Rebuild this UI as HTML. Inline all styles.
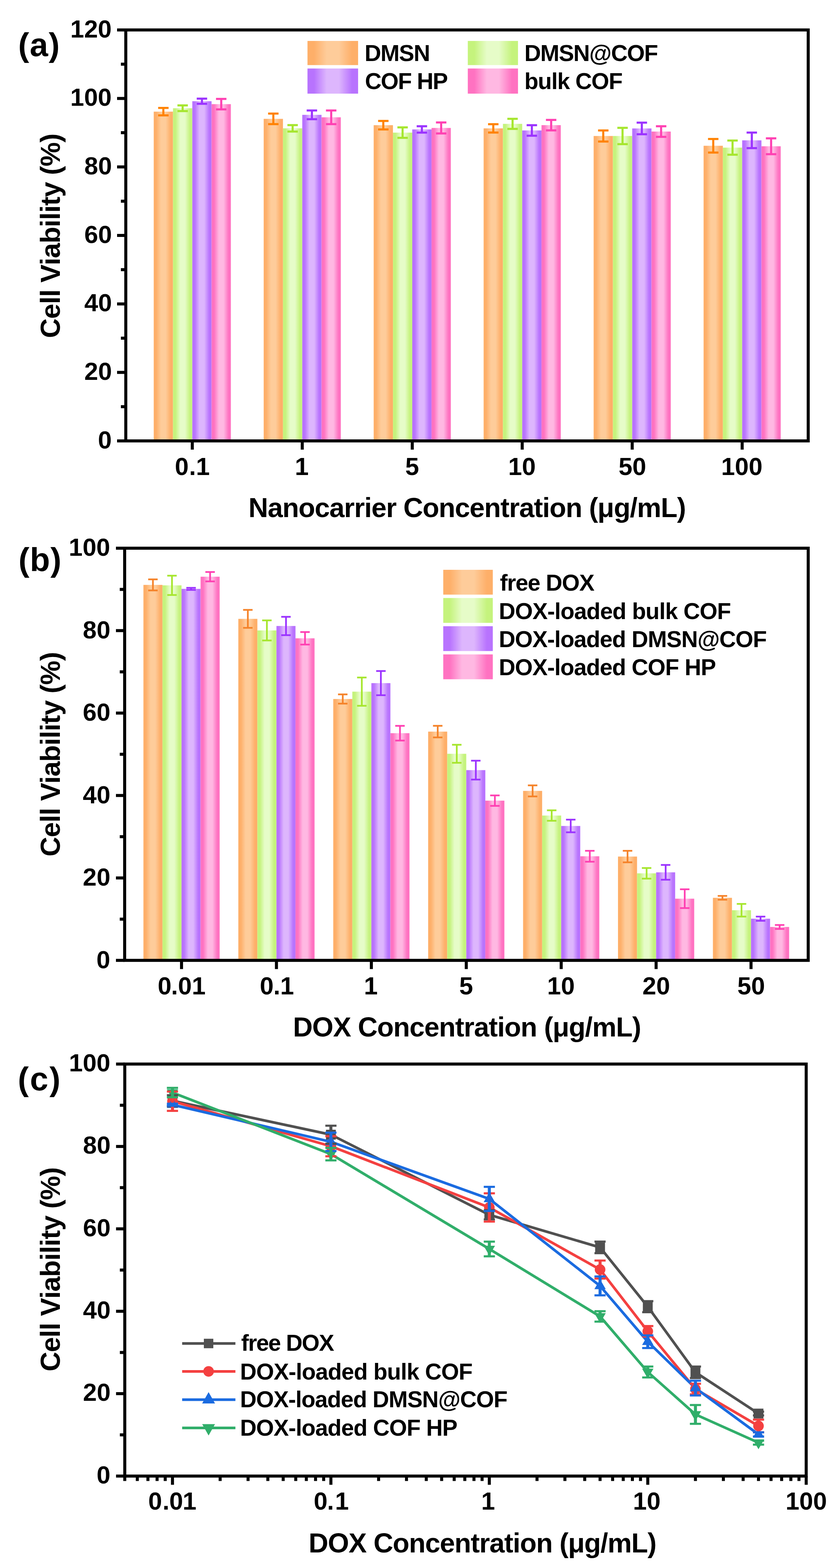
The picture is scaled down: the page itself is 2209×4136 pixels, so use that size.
<!DOCTYPE html><html><head><meta charset="utf-8"><title>Cell viability</title><style>html,body{margin:0;padding:0;background:#fff}svg{display:block}text{font-family:'Liberation Sans',Arial,sans-serif;font-weight:bold;fill:#000}</style></head><body>
<svg width="2209" height="4136" viewBox="0 0 2209 4136">
<rect x="0" y="0" width="2209" height="4136" fill="#fff"/>
<defs>
<linearGradient id="gr_o" x1="0" y1="0" x2="1" y2="0"><stop offset="0" stop-color="#FEAF69"/><stop offset="0.13" stop-color="#FEAF69"/><stop offset="0.38" stop-color="#FECC9A"/><stop offset="0.62" stop-color="#FECC9A"/><stop offset="0.88" stop-color="#FEAF69"/><stop offset="1" stop-color="#FEAF69"/></linearGradient>
<linearGradient id="gr_g" x1="0" y1="0" x2="1" y2="0"><stop offset="0" stop-color="#C5F37D"/><stop offset="0.13" stop-color="#C5F37D"/><stop offset="0.38" stop-color="#E6FCC8"/><stop offset="0.62" stop-color="#E6FCC8"/><stop offset="0.88" stop-color="#C5F37D"/><stop offset="1" stop-color="#C5F37D"/></linearGradient>
<linearGradient id="gr_p" x1="0" y1="0" x2="1" y2="0"><stop offset="0" stop-color="#B873FE"/><stop offset="0.13" stop-color="#B873FE"/><stop offset="0.38" stop-color="#DDB6FD"/><stop offset="0.62" stop-color="#DDB6FD"/><stop offset="0.88" stop-color="#B873FE"/><stop offset="1" stop-color="#B873FE"/></linearGradient>
<linearGradient id="gr_k" x1="0" y1="0" x2="1" y2="0"><stop offset="0" stop-color="#FF72C1"/><stop offset="0.13" stop-color="#FF72C1"/><stop offset="0.38" stop-color="#FFB8E2"/><stop offset="0.62" stop-color="#FFB8E2"/><stop offset="0.88" stop-color="#FF72C1"/><stop offset="1" stop-color="#FF72C1"/></linearGradient>
</defs>
<rect x="405.7" y="294.5" width="50.9" height="868.5" fill="url(#gr_o)"/>
<rect x="456.6" y="285.5" width="50.9" height="877.5" fill="url(#gr_g)"/>
<rect x="507.5" y="267.0" width="50.9" height="896.0" fill="url(#gr_p)"/>
<rect x="558.4" y="274.7" width="50.9" height="888.3" fill="url(#gr_k)"/>
<rect x="695.9" y="313.5" width="50.9" height="849.5" fill="url(#gr_o)"/>
<rect x="746.8" y="338.5" width="50.9" height="824.5" fill="url(#gr_g)"/>
<rect x="797.7" y="302.9" width="50.9" height="860.1" fill="url(#gr_p)"/>
<rect x="848.6" y="309.4" width="50.9" height="853.6" fill="url(#gr_k)"/>
<rect x="986.2" y="330.2" width="50.9" height="832.8" fill="url(#gr_o)"/>
<rect x="1037.1" y="349.8" width="50.9" height="813.2" fill="url(#gr_g)"/>
<rect x="1088.0" y="341.4" width="50.9" height="821.6" fill="url(#gr_p)"/>
<rect x="1138.9" y="337.5" width="50.9" height="825.5" fill="url(#gr_k)"/>
<rect x="1276.4" y="338.6" width="50.9" height="824.4" fill="url(#gr_o)"/>
<rect x="1327.3" y="326.7" width="50.9" height="836.3" fill="url(#gr_g)"/>
<rect x="1378.2" y="344.1" width="50.9" height="818.9" fill="url(#gr_p)"/>
<rect x="1429.1" y="330.1" width="50.9" height="832.9" fill="url(#gr_k)"/>
<rect x="1566.7" y="358.7" width="50.9" height="804.3" fill="url(#gr_o)"/>
<rect x="1617.6" y="358.7" width="50.9" height="804.3" fill="url(#gr_g)"/>
<rect x="1668.5" y="338.8" width="50.9" height="824.2" fill="url(#gr_p)"/>
<rect x="1719.4" y="347.0" width="50.9" height="816.0" fill="url(#gr_k)"/>
<rect x="1856.9" y="384.5" width="50.9" height="778.5" fill="url(#gr_o)"/>
<rect x="1907.8" y="389.4" width="50.9" height="773.6" fill="url(#gr_g)"/>
<rect x="1958.7" y="370.2" width="50.9" height="792.8" fill="url(#gr_p)"/>
<rect x="2009.6" y="385.8" width="50.9" height="777.2" fill="url(#gr_k)"/>
<g stroke="#FF8200" fill="none"><line x1="431.1" y1="284.7" x2="431.1" y2="304.3" stroke-width="5.5"/><line x1="417.4" y1="284.7" x2="444.9" y2="284.7" stroke-width="5.5"/><line x1="417.4" y1="304.3" x2="444.9" y2="304.3" stroke-width="5.5"/></g>
<g stroke="#A6E62E" fill="none"><line x1="482.0" y1="278.0" x2="482.0" y2="293.0" stroke-width="5.5"/><line x1="468.3" y1="278.0" x2="495.8" y2="278.0" stroke-width="5.5"/><line x1="468.3" y1="293.0" x2="495.8" y2="293.0" stroke-width="5.5"/></g>
<g stroke="#9B33FF" fill="none"><line x1="533.0" y1="260.2" x2="533.0" y2="273.8" stroke-width="5.5"/><line x1="519.2" y1="260.2" x2="546.7" y2="260.2" stroke-width="5.5"/><line x1="519.2" y1="273.8" x2="546.7" y2="273.8" stroke-width="5.5"/></g>
<g stroke="#FF40B2" fill="none"><line x1="583.9" y1="260.9" x2="583.9" y2="288.5" stroke-width="5.5"/><line x1="570.1" y1="260.9" x2="597.6" y2="260.9" stroke-width="5.5"/><line x1="570.1" y1="288.5" x2="597.6" y2="288.5" stroke-width="5.5"/></g>
<g stroke="#FF8200" fill="none"><line x1="721.4" y1="299.6" x2="721.4" y2="327.4" stroke-width="5.5"/><line x1="707.6" y1="299.6" x2="735.1" y2="299.6" stroke-width="5.5"/><line x1="707.6" y1="327.4" x2="735.1" y2="327.4" stroke-width="5.5"/></g>
<g stroke="#A6E62E" fill="none"><line x1="772.3" y1="330.0" x2="772.3" y2="347.0" stroke-width="5.5"/><line x1="758.5" y1="330.0" x2="786.0" y2="330.0" stroke-width="5.5"/><line x1="758.5" y1="347.0" x2="786.0" y2="347.0" stroke-width="5.5"/></g>
<g stroke="#9B33FF" fill="none"><line x1="823.2" y1="291.4" x2="823.2" y2="314.4" stroke-width="5.5"/><line x1="809.4" y1="291.4" x2="836.9" y2="291.4" stroke-width="5.5"/><line x1="809.4" y1="314.4" x2="836.9" y2="314.4" stroke-width="5.5"/></g>
<g stroke="#FF40B2" fill="none"><line x1="874.1" y1="291.4" x2="874.1" y2="327.4" stroke-width="5.5"/><line x1="860.3" y1="291.4" x2="887.8" y2="291.4" stroke-width="5.5"/><line x1="860.3" y1="327.4" x2="887.8" y2="327.4" stroke-width="5.5"/></g>
<g stroke="#FF8200" fill="none"><line x1="1011.6" y1="319.0" x2="1011.6" y2="341.4" stroke-width="5.5"/><line x1="997.9" y1="319.0" x2="1025.4" y2="319.0" stroke-width="5.5"/><line x1="997.9" y1="341.4" x2="1025.4" y2="341.4" stroke-width="5.5"/></g>
<g stroke="#A6E62E" fill="none"><line x1="1062.5" y1="336.0" x2="1062.5" y2="363.6" stroke-width="5.5"/><line x1="1048.8" y1="336.0" x2="1076.3" y2="336.0" stroke-width="5.5"/><line x1="1048.8" y1="363.6" x2="1076.3" y2="363.6" stroke-width="5.5"/></g>
<g stroke="#9B33FF" fill="none"><line x1="1113.4" y1="333.0" x2="1113.4" y2="349.8" stroke-width="5.5"/><line x1="1099.7" y1="333.0" x2="1127.2" y2="333.0" stroke-width="5.5"/><line x1="1099.7" y1="349.8" x2="1127.2" y2="349.8" stroke-width="5.5"/></g>
<g stroke="#FF40B2" fill="none"><line x1="1164.3" y1="323.0" x2="1164.3" y2="352.0" stroke-width="5.5"/><line x1="1150.6" y1="323.0" x2="1178.1" y2="323.0" stroke-width="5.5"/><line x1="1150.6" y1="352.0" x2="1178.1" y2="352.0" stroke-width="5.5"/></g>
<g stroke="#FF8200" fill="none"><line x1="1301.9" y1="327.6" x2="1301.9" y2="349.6" stroke-width="5.5"/><line x1="1288.1" y1="327.6" x2="1315.6" y2="327.6" stroke-width="5.5"/><line x1="1288.1" y1="349.6" x2="1315.6" y2="349.6" stroke-width="5.5"/></g>
<g stroke="#A6E62E" fill="none"><line x1="1352.8" y1="313.4" x2="1352.8" y2="340.0" stroke-width="5.5"/><line x1="1339.0" y1="313.4" x2="1366.5" y2="313.4" stroke-width="5.5"/><line x1="1339.0" y1="340.0" x2="1366.5" y2="340.0" stroke-width="5.5"/></g>
<g stroke="#9B33FF" fill="none"><line x1="1403.7" y1="330.2" x2="1403.7" y2="358.0" stroke-width="5.5"/><line x1="1389.9" y1="330.2" x2="1417.4" y2="330.2" stroke-width="5.5"/><line x1="1389.9" y1="358.0" x2="1417.4" y2="358.0" stroke-width="5.5"/></g>
<g stroke="#FF40B2" fill="none"><line x1="1454.6" y1="316.3" x2="1454.6" y2="343.9" stroke-width="5.5"/><line x1="1440.8" y1="316.3" x2="1468.3" y2="316.3" stroke-width="5.5"/><line x1="1440.8" y1="343.9" x2="1468.3" y2="343.9" stroke-width="5.5"/></g>
<g stroke="#FF8200" fill="none"><line x1="1592.1" y1="344.1" x2="1592.1" y2="373.3" stroke-width="5.5"/><line x1="1578.4" y1="344.1" x2="1605.9" y2="344.1" stroke-width="5.5"/><line x1="1578.4" y1="373.3" x2="1605.9" y2="373.3" stroke-width="5.5"/></g>
<g stroke="#A6E62E" fill="none"><line x1="1643.0" y1="337.2" x2="1643.0" y2="380.2" stroke-width="5.5"/><line x1="1629.3" y1="337.2" x2="1656.8" y2="337.2" stroke-width="5.5"/><line x1="1629.3" y1="380.2" x2="1656.8" y2="380.2" stroke-width="5.5"/></g>
<g stroke="#9B33FF" fill="none"><line x1="1693.9" y1="323.5" x2="1693.9" y2="354.1" stroke-width="5.5"/><line x1="1680.2" y1="323.5" x2="1707.7" y2="323.5" stroke-width="5.5"/><line x1="1680.2" y1="354.1" x2="1707.7" y2="354.1" stroke-width="5.5"/></g>
<g stroke="#FF40B2" fill="none"><line x1="1744.8" y1="333.0" x2="1744.8" y2="361.0" stroke-width="5.5"/><line x1="1731.1" y1="333.0" x2="1758.6" y2="333.0" stroke-width="5.5"/><line x1="1731.1" y1="361.0" x2="1758.6" y2="361.0" stroke-width="5.5"/></g>
<g stroke="#FF8200" fill="none"><line x1="1882.4" y1="366.6" x2="1882.4" y2="402.4" stroke-width="5.5"/><line x1="1868.6" y1="366.6" x2="1896.1" y2="366.6" stroke-width="5.5"/><line x1="1868.6" y1="402.4" x2="1896.1" y2="402.4" stroke-width="5.5"/></g>
<g stroke="#A6E62E" fill="none"><line x1="1933.3" y1="370.7" x2="1933.3" y2="408.1" stroke-width="5.5"/><line x1="1919.5" y1="370.7" x2="1947.0" y2="370.7" stroke-width="5.5"/><line x1="1919.5" y1="408.1" x2="1947.0" y2="408.1" stroke-width="5.5"/></g>
<g stroke="#9B33FF" fill="none"><line x1="1984.2" y1="349.7" x2="1984.2" y2="390.7" stroke-width="5.5"/><line x1="1970.4" y1="349.7" x2="1997.9" y2="349.7" stroke-width="5.5"/><line x1="1970.4" y1="390.7" x2="1997.9" y2="390.7" stroke-width="5.5"/></g>
<g stroke="#FF40B2" fill="none"><line x1="2035.1" y1="364.9" x2="2035.1" y2="406.7" stroke-width="5.5"/><line x1="2021.3" y1="364.9" x2="2048.8" y2="364.9" stroke-width="5.5"/><line x1="2021.3" y1="406.7" x2="2048.8" y2="406.7" stroke-width="5.5"/></g>
<rect x="332" y="79" width="1801" height="1084" fill="none" stroke="#000" stroke-width="8"/>
<line x1="309.0" y1="1163.0" x2="332.0" y2="1163.0" stroke="#000" stroke-width="8"/>
<line x1="309.0" y1="982.3" x2="332.0" y2="982.3" stroke="#000" stroke-width="8"/>
<line x1="309.0" y1="801.7" x2="332.0" y2="801.7" stroke="#000" stroke-width="8"/>
<line x1="309.0" y1="621.0" x2="332.0" y2="621.0" stroke="#000" stroke-width="8"/>
<line x1="309.0" y1="440.3" x2="332.0" y2="440.3" stroke="#000" stroke-width="8"/>
<line x1="309.0" y1="259.7" x2="332.0" y2="259.7" stroke="#000" stroke-width="8"/>
<line x1="309.0" y1="79.0" x2="332.0" y2="79.0" stroke="#000" stroke-width="8"/>
<line x1="319.0" y1="1072.7" x2="332.0" y2="1072.7" stroke="#000" stroke-width="8"/>
<line x1="319.0" y1="892.0" x2="332.0" y2="892.0" stroke="#000" stroke-width="8"/>
<line x1="319.0" y1="711.3" x2="332.0" y2="711.3" stroke="#000" stroke-width="8"/>
<line x1="319.0" y1="530.7" x2="332.0" y2="530.7" stroke="#000" stroke-width="8"/>
<line x1="319.0" y1="350.0" x2="332.0" y2="350.0" stroke="#000" stroke-width="8"/>
<line x1="319.0" y1="169.3" x2="332.0" y2="169.3" stroke="#000" stroke-width="8"/>
<line x1="507.5" y1="1163.0" x2="507.5" y2="1186.0" stroke="#000" stroke-width="8"/>
<text x="461.4 499.1 517.2" y="1252.5" font-size="65.5">0.1</text>
<line x1="797.7" y1="1163.0" x2="797.7" y2="1186.0" stroke="#000" stroke-width="8"/>
<text x="778.2" y="1252.5" font-size="65.5">1</text>
<line x1="1088.0" y1="1163.0" x2="1088.0" y2="1186.0" stroke="#000" stroke-width="8"/>
<text x="1069.5" y="1252.5" font-size="65.5">5</text>
<line x1="1378.2" y1="1163.0" x2="1378.2" y2="1186.0" stroke="#000" stroke-width="8"/>
<text x="1341.2" y="1252.5" font-size="65.5">10</text>
<line x1="1668.5" y1="1163.0" x2="1668.5" y2="1186.0" stroke="#000" stroke-width="8"/>
<text x="1632.5" y="1252.5" font-size="65.5">50</text>
<line x1="1958.7" y1="1163.0" x2="1958.7" y2="1186.0" stroke="#000" stroke-width="8"/>
<text x="1903.2" y="1252.5" font-size="65.5">100</text>
<text x="258.5" y="1182.5" font-size="65.5">0</text>
<text x="222.5" y="1001.8" font-size="65.5">20</text>
<text x="222.5" y="821.2" font-size="65.5">40</text>
<text x="222.5" y="640.5" font-size="65.5">60</text>
<text x="222.5" y="459.8" font-size="65.5">80</text>
<text x="185.5" y="279.2" font-size="65.5">100</text>
<text x="185.5" y="98.5" font-size="65.5">120</text>
<text x="655.7" y="1364.1" font-size="72" textLength="1155.0" lengthAdjust="spacing">Nanocarrier Concentration (μg/mL)</text>
<text transform="translate(158.0,891.8) rotate(-90)" x="0" y="0" font-size="72" textLength="539.7" lengthAdjust="spacing">Cell Viability (%)</text>
<text x="47.9" y="148.4" font-size="87" textLength="109.6" lengthAdjust="spacing">(a)</text>
<rect x="811.5" y="108" width="133.6" height="63.7" fill="url(#gr_o)"/>
<rect x="811.5" y="180.7" width="133.6" height="66.3" fill="url(#gr_p)"/>
<rect x="1234.6" y="108" width="132.5" height="63.7" fill="url(#gr_g)"/>
<rect x="1234.6" y="180.7" width="132.5" height="66.3" fill="url(#gr_k)"/>
<text x="962.3" y="160.5" font-size="60.5" textLength="173.1" lengthAdjust="spacing">DMSN</text>
<text x="963.3" y="235.2" font-size="60.5" textLength="219.1" lengthAdjust="spacing">COF HP</text>
<text x="1384.0" y="160.5" font-size="60.5" textLength="353.0" lengthAdjust="spacing">DMSN@COF</text>
<text x="1384.0" y="235.2" font-size="60.5" textLength="259.5" lengthAdjust="spacing">bulk COF</text>
<rect x="378.5" y="1542.8" width="50.3" height="990.4" fill="url(#gr_o)"/>
<rect x="428.8" y="1544.0" width="50.3" height="989.2" fill="url(#gr_g)"/>
<rect x="479.1" y="1553.3" width="50.3" height="979.9" fill="url(#gr_p)"/>
<rect x="529.4" y="1521.2" width="50.3" height="1012.0" fill="url(#gr_k)"/>
<rect x="629.0" y="1632.4" width="50.3" height="900.8" fill="url(#gr_o)"/>
<rect x="679.3" y="1662.9" width="50.3" height="870.3" fill="url(#gr_g)"/>
<rect x="729.6" y="1651.2" width="50.3" height="882.0" fill="url(#gr_p)"/>
<rect x="779.9" y="1683.7" width="50.3" height="849.5" fill="url(#gr_k)"/>
<rect x="879.5" y="1843.8" width="50.3" height="689.4" fill="url(#gr_o)"/>
<rect x="929.8" y="1824.4" width="50.3" height="708.8" fill="url(#gr_g)"/>
<rect x="980.1" y="1801.9" width="50.3" height="731.3" fill="url(#gr_p)"/>
<rect x="1030.4" y="1934.0" width="50.3" height="599.2" fill="url(#gr_k)"/>
<rect x="1130.0" y="1929.8" width="50.3" height="603.4" fill="url(#gr_o)"/>
<rect x="1180.3" y="1988.3" width="50.3" height="544.9" fill="url(#gr_g)"/>
<rect x="1230.6" y="2031.4" width="50.3" height="501.8" fill="url(#gr_p)"/>
<rect x="1280.9" y="2111.9" width="50.3" height="421.3" fill="url(#gr_k)"/>
<rect x="1380.5" y="2086.2" width="50.3" height="447.0" fill="url(#gr_o)"/>
<rect x="1430.8" y="2151.2" width="50.3" height="382.0" fill="url(#gr_g)"/>
<rect x="1481.1" y="2178.7" width="50.3" height="354.5" fill="url(#gr_p)"/>
<rect x="1531.4" y="2258.6" width="50.3" height="274.6" fill="url(#gr_k)"/>
<rect x="1631.0" y="2259.4" width="50.3" height="273.8" fill="url(#gr_o)"/>
<rect x="1681.3" y="2303.6" width="50.3" height="229.6" fill="url(#gr_g)"/>
<rect x="1731.6" y="2301.0" width="50.3" height="232.2" fill="url(#gr_p)"/>
<rect x="1781.9" y="2370.5" width="50.3" height="162.7" fill="url(#gr_k)"/>
<rect x="1881.5" y="2368.2" width="50.3" height="165.0" fill="url(#gr_o)"/>
<rect x="1931.8" y="2401.0" width="50.3" height="132.2" fill="url(#gr_g)"/>
<rect x="1982.1" y="2423.3" width="50.3" height="109.9" fill="url(#gr_p)"/>
<rect x="2032.4" y="2445.1" width="50.3" height="88.1" fill="url(#gr_k)"/>
<g stroke="#F5832A" fill="none"><line x1="403.6" y1="1528.2" x2="403.6" y2="1557.4" stroke-width="4.5"/><line x1="391.1" y1="1528.2" x2="416.1" y2="1528.2" stroke-width="4.5"/><line x1="391.1" y1="1557.4" x2="416.1" y2="1557.4" stroke-width="4.5"/></g>
<g stroke="#A6E62E" fill="none"><line x1="453.9" y1="1518.5" x2="453.9" y2="1569.5" stroke-width="4.5"/><line x1="441.4" y1="1518.5" x2="466.4" y2="1518.5" stroke-width="4.5"/><line x1="441.4" y1="1569.5" x2="466.4" y2="1569.5" stroke-width="4.5"/></g>
<g stroke="#9B33FF" fill="none"><line x1="504.2" y1="1550.6" x2="504.2" y2="1556.0" stroke-width="4.5"/><line x1="491.8" y1="1550.6" x2="516.8" y2="1550.6" stroke-width="4.5"/><line x1="491.8" y1="1556.0" x2="516.8" y2="1556.0" stroke-width="4.5"/></g>
<g stroke="#FF40B2" fill="none"><line x1="554.5" y1="1508.8" x2="554.5" y2="1533.6" stroke-width="4.5"/><line x1="542.0" y1="1508.8" x2="567.0" y2="1508.8" stroke-width="4.5"/><line x1="542.0" y1="1533.6" x2="567.0" y2="1533.6" stroke-width="4.5"/></g>
<g stroke="#F5832A" fill="none"><line x1="654.1" y1="1608.7" x2="654.1" y2="1656.1" stroke-width="4.5"/><line x1="641.6" y1="1608.7" x2="666.6" y2="1608.7" stroke-width="4.5"/><line x1="641.6" y1="1656.1" x2="666.6" y2="1656.1" stroke-width="4.5"/></g>
<g stroke="#A6E62E" fill="none"><line x1="704.4" y1="1636.4" x2="704.4" y2="1689.4" stroke-width="4.5"/><line x1="691.9" y1="1636.4" x2="716.9" y2="1636.4" stroke-width="4.5"/><line x1="691.9" y1="1689.4" x2="716.9" y2="1689.4" stroke-width="4.5"/></g>
<g stroke="#9B33FF" fill="none"><line x1="754.8" y1="1627.0" x2="754.8" y2="1675.4" stroke-width="4.5"/><line x1="742.2" y1="1627.0" x2="767.2" y2="1627.0" stroke-width="4.5"/><line x1="742.2" y1="1675.4" x2="767.2" y2="1675.4" stroke-width="4.5"/></g>
<g stroke="#FF40B2" fill="none"><line x1="805.0" y1="1667.2" x2="805.0" y2="1700.2" stroke-width="4.5"/><line x1="792.5" y1="1667.2" x2="817.5" y2="1667.2" stroke-width="4.5"/><line x1="792.5" y1="1700.2" x2="817.5" y2="1700.2" stroke-width="4.5"/></g>
<g stroke="#F5832A" fill="none"><line x1="904.6" y1="1831.6" x2="904.6" y2="1856.0" stroke-width="4.5"/><line x1="892.1" y1="1831.6" x2="917.1" y2="1831.6" stroke-width="4.5"/><line x1="892.1" y1="1856.0" x2="917.1" y2="1856.0" stroke-width="4.5"/></g>
<g stroke="#A6E62E" fill="none"><line x1="954.9" y1="1787.1" x2="954.9" y2="1861.7" stroke-width="4.5"/><line x1="942.4" y1="1787.1" x2="967.4" y2="1787.1" stroke-width="4.5"/><line x1="942.4" y1="1861.7" x2="967.4" y2="1861.7" stroke-width="4.5"/></g>
<g stroke="#9B33FF" fill="none"><line x1="1005.2" y1="1770.0" x2="1005.2" y2="1833.8" stroke-width="4.5"/><line x1="992.8" y1="1770.0" x2="1017.8" y2="1770.0" stroke-width="4.5"/><line x1="992.8" y1="1833.8" x2="1017.8" y2="1833.8" stroke-width="4.5"/></g>
<g stroke="#FF40B2" fill="none"><line x1="1055.6" y1="1914.6" x2="1055.6" y2="1953.4" stroke-width="4.5"/><line x1="1043.1" y1="1914.6" x2="1068.1" y2="1914.6" stroke-width="4.5"/><line x1="1043.1" y1="1953.4" x2="1068.1" y2="1953.4" stroke-width="4.5"/></g>
<g stroke="#F5832A" fill="none"><line x1="1155.2" y1="1914.5" x2="1155.2" y2="1945.1" stroke-width="4.5"/><line x1="1142.7" y1="1914.5" x2="1167.7" y2="1914.5" stroke-width="4.5"/><line x1="1142.7" y1="1945.1" x2="1167.7" y2="1945.1" stroke-width="4.5"/></g>
<g stroke="#A6E62E" fill="none"><line x1="1205.5" y1="1964.5" x2="1205.5" y2="2012.1" stroke-width="4.5"/><line x1="1193.0" y1="1964.5" x2="1218.0" y2="1964.5" stroke-width="4.5"/><line x1="1193.0" y1="2012.1" x2="1218.0" y2="2012.1" stroke-width="4.5"/></g>
<g stroke="#9B33FF" fill="none"><line x1="1255.8" y1="2006.5" x2="1255.8" y2="2056.3" stroke-width="4.5"/><line x1="1243.2" y1="2006.5" x2="1268.2" y2="2006.5" stroke-width="4.5"/><line x1="1243.2" y1="2056.3" x2="1268.2" y2="2056.3" stroke-width="4.5"/></g>
<g stroke="#FF40B2" fill="none"><line x1="1306.1" y1="2098.1" x2="1306.1" y2="2125.7" stroke-width="4.5"/><line x1="1293.6" y1="2098.1" x2="1318.6" y2="2098.1" stroke-width="4.5"/><line x1="1293.6" y1="2125.7" x2="1318.6" y2="2125.7" stroke-width="4.5"/></g>
<g stroke="#F5832A" fill="none"><line x1="1405.7" y1="2071.6" x2="1405.7" y2="2100.8" stroke-width="4.5"/><line x1="1393.2" y1="2071.6" x2="1418.2" y2="2071.6" stroke-width="4.5"/><line x1="1393.2" y1="2100.8" x2="1418.2" y2="2100.8" stroke-width="4.5"/></g>
<g stroke="#A6E62E" fill="none"><line x1="1456.0" y1="2137.4" x2="1456.0" y2="2165.0" stroke-width="4.5"/><line x1="1443.5" y1="2137.4" x2="1468.5" y2="2137.4" stroke-width="4.5"/><line x1="1443.5" y1="2165.0" x2="1468.5" y2="2165.0" stroke-width="4.5"/></g>
<g stroke="#9B33FF" fill="none"><line x1="1506.2" y1="2162.0" x2="1506.2" y2="2195.4" stroke-width="4.5"/><line x1="1493.8" y1="2162.0" x2="1518.8" y2="2162.0" stroke-width="4.5"/><line x1="1493.8" y1="2195.4" x2="1518.8" y2="2195.4" stroke-width="4.5"/></g>
<g stroke="#FF40B2" fill="none"><line x1="1556.6" y1="2244.2" x2="1556.6" y2="2273.0" stroke-width="4.5"/><line x1="1544.1" y1="2244.2" x2="1569.1" y2="2244.2" stroke-width="4.5"/><line x1="1544.1" y1="2273.0" x2="1569.1" y2="2273.0" stroke-width="4.5"/></g>
<g stroke="#F5832A" fill="none"><line x1="1656.2" y1="2244.2" x2="1656.2" y2="2274.6" stroke-width="4.5"/><line x1="1643.7" y1="2244.2" x2="1668.7" y2="2244.2" stroke-width="4.5"/><line x1="1643.7" y1="2274.6" x2="1668.7" y2="2274.6" stroke-width="4.5"/></g>
<g stroke="#A6E62E" fill="none"><line x1="1706.5" y1="2289.6" x2="1706.5" y2="2317.6" stroke-width="4.5"/><line x1="1694.0" y1="2289.6" x2="1719.0" y2="2289.6" stroke-width="4.5"/><line x1="1694.0" y1="2317.6" x2="1719.0" y2="2317.6" stroke-width="4.5"/></g>
<g stroke="#9B33FF" fill="none"><line x1="1756.8" y1="2281.5" x2="1756.8" y2="2320.5" stroke-width="4.5"/><line x1="1744.2" y1="2281.5" x2="1769.2" y2="2281.5" stroke-width="4.5"/><line x1="1744.2" y1="2320.5" x2="1769.2" y2="2320.5" stroke-width="4.5"/></g>
<g stroke="#FF40B2" fill="none"><line x1="1807.1" y1="2345.7" x2="1807.1" y2="2395.3" stroke-width="4.5"/><line x1="1794.6" y1="2345.7" x2="1819.6" y2="2345.7" stroke-width="4.5"/><line x1="1794.6" y1="2395.3" x2="1819.6" y2="2395.3" stroke-width="4.5"/></g>
<g stroke="#F5832A" fill="none"><line x1="1906.7" y1="2363.2" x2="1906.7" y2="2373.2" stroke-width="4.5"/><line x1="1894.2" y1="2363.2" x2="1919.2" y2="2363.2" stroke-width="4.5"/><line x1="1894.2" y1="2373.2" x2="1919.2" y2="2373.2" stroke-width="4.5"/></g>
<g stroke="#A6E62E" fill="none"><line x1="1957.0" y1="2384.3" x2="1957.0" y2="2417.7" stroke-width="4.5"/><line x1="1944.5" y1="2384.3" x2="1969.5" y2="2384.3" stroke-width="4.5"/><line x1="1944.5" y1="2417.7" x2="1969.5" y2="2417.7" stroke-width="4.5"/></g>
<g stroke="#9B33FF" fill="none"><line x1="2007.2" y1="2417.8" x2="2007.2" y2="2428.8" stroke-width="4.5"/><line x1="1994.8" y1="2417.8" x2="2019.8" y2="2417.8" stroke-width="4.5"/><line x1="1994.8" y1="2428.8" x2="2019.8" y2="2428.8" stroke-width="4.5"/></g>
<g stroke="#FF40B2" fill="none"><line x1="2057.6" y1="2439.9" x2="2057.6" y2="2450.3" stroke-width="4.5"/><line x1="2045.1" y1="2439.9" x2="2070.1" y2="2439.9" stroke-width="4.5"/><line x1="2045.1" y1="2450.3" x2="2070.1" y2="2450.3" stroke-width="4.5"/></g>
<rect x="329" y="1446" width="1804" height="1087.1999999999998" fill="none" stroke="#000" stroke-width="8"/>
<line x1="306.0" y1="2533.2" x2="329.0" y2="2533.2" stroke="#000" stroke-width="8"/>
<line x1="306.0" y1="2315.8" x2="329.0" y2="2315.8" stroke="#000" stroke-width="8"/>
<line x1="306.0" y1="2098.3" x2="329.0" y2="2098.3" stroke="#000" stroke-width="8"/>
<line x1="306.0" y1="1880.9" x2="329.0" y2="1880.9" stroke="#000" stroke-width="8"/>
<line x1="306.0" y1="1663.4" x2="329.0" y2="1663.4" stroke="#000" stroke-width="8"/>
<line x1="306.0" y1="1446.0" x2="329.0" y2="1446.0" stroke="#000" stroke-width="8"/>
<line x1="316.0" y1="2424.5" x2="329.0" y2="2424.5" stroke="#000" stroke-width="8"/>
<line x1="316.0" y1="2207.0" x2="329.0" y2="2207.0" stroke="#000" stroke-width="8"/>
<line x1="316.0" y1="1989.6" x2="329.0" y2="1989.6" stroke="#000" stroke-width="8"/>
<line x1="316.0" y1="1772.2" x2="329.0" y2="1772.2" stroke="#000" stroke-width="8"/>
<line x1="316.0" y1="1554.7" x2="329.0" y2="1554.7" stroke="#000" stroke-width="8"/>
<line x1="479.1" y1="2533.2" x2="479.1" y2="2556.2" stroke="#000" stroke-width="8"/>
<text x="416.3 451.6 469.8 506.2" y="2622.5" font-size="65.5">0.01</text>
<line x1="729.6" y1="2533.2" x2="729.6" y2="2556.2" stroke="#000" stroke-width="8"/>
<text x="685.7 721.4 739.4" y="2622.5" font-size="65.5">0.1</text>
<line x1="980.1" y1="2533.2" x2="980.1" y2="2556.2" stroke="#000" stroke-width="8"/>
<text x="960.6" y="2622.5" font-size="65.5">1</text>
<line x1="1230.6" y1="2533.2" x2="1230.6" y2="2556.2" stroke="#000" stroke-width="8"/>
<text x="1212.1" y="2622.5" font-size="65.5">5</text>
<line x1="1481.1" y1="2533.2" x2="1481.1" y2="2556.2" stroke="#000" stroke-width="8"/>
<text x="1444.1" y="2622.5" font-size="65.5">10</text>
<line x1="1731.6" y1="2533.2" x2="1731.6" y2="2556.2" stroke="#000" stroke-width="8"/>
<text x="1695.6" y="2622.5" font-size="65.5">20</text>
<line x1="1982.1" y1="2533.2" x2="1982.1" y2="2556.2" stroke="#000" stroke-width="8"/>
<text x="1946.1" y="2622.5" font-size="65.5">50</text>
<text x="254.5" y="2553.5" font-size="65.5">0</text>
<text x="218.5" y="2336.1" font-size="65.5">20</text>
<text x="218.5" y="2118.6" font-size="65.5">40</text>
<text x="218.5" y="1901.2" font-size="65.5">60</text>
<text x="218.5" y="1683.7" font-size="65.5">80</text>
<text x="181.5" y="1466.3" font-size="65.5">100</text>
<text x="773.3" y="2734.1" font-size="72" textLength="919.2" lengthAdjust="spacing">DOX Concentration (μg/mL)</text>
<text transform="translate(157.9,2259.3) rotate(-90)" x="0" y="0" font-size="72" textLength="539.8" lengthAdjust="spacing">Cell Viability (%)</text>
<text x="48.7" y="1506.3" font-size="87" textLength="113.4" lengthAdjust="spacing">(b)</text>
<rect x="1169.8" y="1503.0" width="130.8" height="65.5" fill="url(#gr_o)"/>
<text x="1319.5" y="1558.3" font-size="60.5" textLength="249.5" lengthAdjust="spacing">free DOX</text>
<rect x="1169.8" y="1577.4" width="130.8" height="65.5" fill="url(#gr_g)"/>
<text x="1316.5" y="1632.5" font-size="60.5" textLength="612.9" lengthAdjust="spacing">DOX-loaded bulk COF</text>
<rect x="1169.8" y="1651.8" width="130.8" height="65.5" fill="url(#gr_p)"/>
<text x="1316.5" y="1706.7" font-size="60.5" textLength="707.5" lengthAdjust="spacing">DOX-loaded DMSN@COF</text>
<rect x="1169.8" y="1726.2" width="130.8" height="65.5" fill="url(#gr_k)"/>
<text x="1316.5" y="1780.9" font-size="60.5" textLength="573.3" lengthAdjust="spacing">DOX-loaded COF HP</text>
<polyline points="455.2,2903.5 873.3,2993.0 1291.4,3204.4 1583.7,3290.3 1709.6,3446.7 1835.4,3619.8 2001.8,3728.6" fill="none" stroke="#505050" stroke-width="7" stroke-linejoin="round"/>
<polyline points="455.2,2904.7 873.3,3023.5 1291.4,3185.0 1583.7,3348.8 1709.6,3511.6 1835.4,3664.0 2001.8,3761.3" fill="none" stroke="#F44040" stroke-width="7" stroke-linejoin="round"/>
<polyline points="455.2,2914.0 873.3,3011.8 1291.4,3162.5 1583.7,3391.9 1709.6,3539.1 1835.4,3661.4 2001.8,3783.6" fill="none" stroke="#1A6BE0" stroke-width="7" stroke-linejoin="round"/>
<polyline points="455.2,2881.9 873.3,3044.3 1291.4,3294.5 1583.7,3472.4 1709.6,3619.0 1835.4,3730.9 2001.8,3805.4" fill="none" stroke="#30AE6A" stroke-width="7" stroke-linejoin="round"/>
<rect x="442.2" y="2890.5" width="26.0" height="26.0" fill="#505050"/>
<rect x="860.3" y="2980.0" width="26.0" height="26.0" fill="#505050"/>
<rect x="1278.4" y="3191.4" width="26.0" height="26.0" fill="#505050"/>
<rect x="1570.7" y="3277.3" width="26.0" height="26.0" fill="#505050"/>
<rect x="1696.6" y="3433.7" width="26.0" height="26.0" fill="#505050"/>
<rect x="1822.4" y="3606.8" width="26.0" height="26.0" fill="#505050"/>
<rect x="1988.8" y="3715.6" width="26.0" height="26.0" fill="#505050"/>
<circle cx="455.2" cy="2904.7" r="14.0" fill="#F44040"/>
<circle cx="873.3" cy="3023.5" r="14.0" fill="#F44040"/>
<circle cx="1291.4" cy="3185.0" r="14.0" fill="#F44040"/>
<circle cx="1583.7" cy="3348.8" r="14.0" fill="#F44040"/>
<circle cx="1709.6" cy="3511.6" r="14.0" fill="#F44040"/>
<circle cx="1835.4" cy="3664.0" r="14.0" fill="#F44040"/>
<circle cx="2001.8" cy="3761.3" r="14.0" fill="#F44040"/>
<polygon points="455.2,2896.6 470.2,2922.6 440.2,2922.6" fill="#1A6BE0"/>
<polygon points="873.3,2994.5 888.3,3020.5 858.3,3020.5" fill="#1A6BE0"/>
<polygon points="1291.4,3145.1 1306.4,3171.1 1276.4,3171.1" fill="#1A6BE0"/>
<polygon points="1583.7,3374.6 1598.7,3400.6 1568.7,3400.6" fill="#1A6BE0"/>
<polygon points="1709.6,3521.8 1724.6,3547.8 1694.6,3547.8" fill="#1A6BE0"/>
<polygon points="1835.4,3644.1 1850.4,3670.1 1820.4,3670.1" fill="#1A6BE0"/>
<polygon points="2001.8,3766.3 2016.8,3792.3 1986.8,3792.3" fill="#1A6BE0"/>
<polygon points="455.2,2899.2 470.2,2873.2 440.2,2873.2" fill="#30AE6A"/>
<polygon points="873.3,3061.6 888.3,3035.6 858.3,3035.6" fill="#30AE6A"/>
<polygon points="1291.4,3311.9 1306.4,3285.9 1276.4,3285.9" fill="#30AE6A"/>
<polygon points="1583.7,3489.7 1598.7,3463.7 1568.7,3463.7" fill="#30AE6A"/>
<polygon points="1709.6,3636.3 1724.6,3610.3 1694.6,3610.3" fill="#30AE6A"/>
<polygon points="1835.4,3748.2 1850.4,3722.2 1820.4,3722.2" fill="#30AE6A"/>
<polygon points="2001.8,3822.8 2016.8,3796.8 1986.8,3796.8" fill="#30AE6A"/>
<g stroke="#505050" fill="none"><line x1="455.2" y1="2888.9" x2="455.2" y2="2918.1" stroke-width="8"/><line x1="440.4" y1="2888.9" x2="469.9" y2="2888.9" stroke-width="5.5"/><line x1="440.4" y1="2918.1" x2="469.9" y2="2918.1" stroke-width="5.5"/></g>
<g stroke="#505050" fill="none"><line x1="873.3" y1="2969.3" x2="873.3" y2="3016.7" stroke-width="8"/><line x1="858.6" y1="2969.3" x2="888.1" y2="2969.3" stroke-width="5.5"/><line x1="858.6" y1="3016.7" x2="888.1" y2="3016.7" stroke-width="5.5"/></g>
<g stroke="#505050" fill="none"><line x1="1291.4" y1="3192.2" x2="1291.4" y2="3216.5" stroke-width="8"/><line x1="1276.7" y1="3192.2" x2="1306.2" y2="3192.2" stroke-width="5.5"/><line x1="1276.7" y1="3216.5" x2="1306.2" y2="3216.5" stroke-width="5.5"/></g>
<g stroke="#505050" fill="none"><line x1="1583.7" y1="3275.0" x2="1583.7" y2="3305.6" stroke-width="8"/><line x1="1568.9" y1="3275.0" x2="1598.4" y2="3275.0" stroke-width="5.5"/><line x1="1568.9" y1="3305.6" x2="1598.4" y2="3305.6" stroke-width="5.5"/></g>
<g stroke="#505050" fill="none"><line x1="1709.6" y1="3432.1" x2="1709.6" y2="3461.3" stroke-width="8"/><line x1="1694.8" y1="3432.1" x2="1724.3" y2="3432.1" stroke-width="5.5"/><line x1="1694.8" y1="3461.3" x2="1724.3" y2="3461.3" stroke-width="5.5"/></g>
<g stroke="#505050" fill="none"><line x1="1835.4" y1="3604.6" x2="1835.4" y2="3635.0" stroke-width="8"/><line x1="1820.7" y1="3604.6" x2="1850.2" y2="3604.6" stroke-width="5.5"/><line x1="1820.7" y1="3635.0" x2="1850.2" y2="3635.0" stroke-width="5.5"/></g>
<g stroke="#505050" fill="none"><line x1="2001.8" y1="3723.6" x2="2001.8" y2="3733.6" stroke-width="8"/><line x1="1987.1" y1="3723.6" x2="2016.6" y2="3723.6" stroke-width="5.5"/><line x1="1987.1" y1="3733.6" x2="2016.6" y2="3733.6" stroke-width="5.5"/></g>
<g stroke="#F44040" fill="none"><line x1="455.2" y1="2879.2" x2="455.2" y2="2930.2" stroke-width="8"/><line x1="440.4" y1="2879.2" x2="469.9" y2="2879.2" stroke-width="5.5"/><line x1="440.4" y1="2930.2" x2="469.9" y2="2930.2" stroke-width="5.5"/></g>
<g stroke="#F44040" fill="none"><line x1="873.3" y1="2997.0" x2="873.3" y2="3050.0" stroke-width="8"/><line x1="858.6" y1="2997.0" x2="888.1" y2="2997.0" stroke-width="5.5"/><line x1="858.6" y1="3050.0" x2="888.1" y2="3050.0" stroke-width="5.5"/></g>
<g stroke="#F44040" fill="none"><line x1="1291.4" y1="3147.7" x2="1291.4" y2="3222.2" stroke-width="8"/><line x1="1276.7" y1="3147.7" x2="1306.2" y2="3147.7" stroke-width="5.5"/><line x1="1276.7" y1="3222.2" x2="1306.2" y2="3222.2" stroke-width="5.5"/></g>
<g stroke="#F44040" fill="none"><line x1="1583.7" y1="3325.0" x2="1583.7" y2="3372.6" stroke-width="8"/><line x1="1568.9" y1="3325.0" x2="1598.4" y2="3325.0" stroke-width="5.5"/><line x1="1568.9" y1="3372.6" x2="1598.4" y2="3372.6" stroke-width="5.5"/></g>
<g stroke="#F44040" fill="none"><line x1="1709.6" y1="3497.8" x2="1709.6" y2="3525.4" stroke-width="8"/><line x1="1694.8" y1="3497.8" x2="1724.3" y2="3497.8" stroke-width="5.5"/><line x1="1694.8" y1="3525.4" x2="1724.3" y2="3525.4" stroke-width="5.5"/></g>
<g stroke="#F44040" fill="none"><line x1="1835.4" y1="3650.0" x2="1835.4" y2="3678.0" stroke-width="8"/><line x1="1820.7" y1="3650.0" x2="1850.2" y2="3650.0" stroke-width="5.5"/><line x1="1820.7" y1="3678.0" x2="1850.2" y2="3678.0" stroke-width="5.5"/></g>
<g stroke="#F44040" fill="none"><line x1="2001.8" y1="3744.7" x2="2001.8" y2="3778.0" stroke-width="8"/><line x1="1987.1" y1="3744.7" x2="2016.6" y2="3744.7" stroke-width="5.5"/><line x1="1987.1" y1="3778.0" x2="2016.6" y2="3778.0" stroke-width="5.5"/></g>
<g stroke="#1A6BE0" fill="none"><line x1="455.2" y1="2911.3" x2="455.2" y2="2916.7" stroke-width="8"/><line x1="440.4" y1="2911.3" x2="469.9" y2="2911.3" stroke-width="5.5"/><line x1="440.4" y1="2916.7" x2="469.9" y2="2916.7" stroke-width="5.5"/></g>
<g stroke="#1A6BE0" fill="none"><line x1="873.3" y1="2987.6" x2="873.3" y2="3036.0" stroke-width="8"/><line x1="858.6" y1="2987.6" x2="888.1" y2="2987.6" stroke-width="5.5"/><line x1="858.6" y1="3036.0" x2="888.1" y2="3036.0" stroke-width="5.5"/></g>
<g stroke="#1A6BE0" fill="none"><line x1="1291.4" y1="3130.6" x2="1291.4" y2="3194.4" stroke-width="8"/><line x1="1276.7" y1="3130.6" x2="1306.2" y2="3130.6" stroke-width="5.5"/><line x1="1276.7" y1="3194.4" x2="1306.2" y2="3194.4" stroke-width="5.5"/></g>
<g stroke="#1A6BE0" fill="none"><line x1="1583.7" y1="3367.0" x2="1583.7" y2="3416.8" stroke-width="8"/><line x1="1568.9" y1="3367.0" x2="1598.4" y2="3367.0" stroke-width="5.5"/><line x1="1568.9" y1="3416.8" x2="1598.4" y2="3416.8" stroke-width="5.5"/></g>
<g stroke="#1A6BE0" fill="none"><line x1="1709.6" y1="3522.4" x2="1709.6" y2="3555.8" stroke-width="8"/><line x1="1694.8" y1="3522.4" x2="1724.3" y2="3522.4" stroke-width="5.5"/><line x1="1694.8" y1="3555.8" x2="1724.3" y2="3555.8" stroke-width="5.5"/></g>
<g stroke="#1A6BE0" fill="none"><line x1="1835.4" y1="3641.9" x2="1835.4" y2="3680.9" stroke-width="8"/><line x1="1820.7" y1="3641.9" x2="1850.2" y2="3641.9" stroke-width="5.5"/><line x1="1820.7" y1="3680.9" x2="1850.2" y2="3680.9" stroke-width="5.5"/></g>
<g stroke="#1A6BE0" fill="none"><line x1="2001.8" y1="3778.1" x2="2001.8" y2="3789.1" stroke-width="8"/><line x1="1987.1" y1="3778.1" x2="2016.6" y2="3778.1" stroke-width="5.5"/><line x1="1987.1" y1="3789.1" x2="2016.6" y2="3789.1" stroke-width="5.5"/></g>
<g stroke="#30AE6A" fill="none"><line x1="455.2" y1="2869.5" x2="455.2" y2="2894.3" stroke-width="8"/><line x1="440.4" y1="2869.5" x2="469.9" y2="2869.5" stroke-width="5.5"/><line x1="440.4" y1="2894.3" x2="469.9" y2="2894.3" stroke-width="5.5"/></g>
<g stroke="#30AE6A" fill="none"><line x1="873.3" y1="3027.8" x2="873.3" y2="3060.8" stroke-width="8"/><line x1="858.6" y1="3027.8" x2="888.1" y2="3027.8" stroke-width="5.5"/><line x1="858.6" y1="3060.8" x2="888.1" y2="3060.8" stroke-width="5.5"/></g>
<g stroke="#30AE6A" fill="none"><line x1="1291.4" y1="3275.1" x2="1291.4" y2="3313.9" stroke-width="8"/><line x1="1276.7" y1="3275.1" x2="1306.2" y2="3275.1" stroke-width="5.5"/><line x1="1276.7" y1="3313.9" x2="1306.2" y2="3313.9" stroke-width="5.5"/></g>
<g stroke="#30AE6A" fill="none"><line x1="1583.7" y1="3458.6" x2="1583.7" y2="3486.1" stroke-width="8"/><line x1="1568.9" y1="3458.6" x2="1598.4" y2="3458.6" stroke-width="5.5"/><line x1="1568.9" y1="3486.1" x2="1598.4" y2="3486.1" stroke-width="5.5"/></g>
<g stroke="#30AE6A" fill="none"><line x1="1709.6" y1="3604.6" x2="1709.6" y2="3633.4" stroke-width="8"/><line x1="1694.8" y1="3604.6" x2="1724.3" y2="3604.6" stroke-width="5.5"/><line x1="1694.8" y1="3633.4" x2="1724.3" y2="3633.4" stroke-width="5.5"/></g>
<g stroke="#30AE6A" fill="none"><line x1="1835.4" y1="3706.1" x2="1835.4" y2="3755.7" stroke-width="8"/><line x1="1820.7" y1="3706.1" x2="1850.2" y2="3706.1" stroke-width="5.5"/><line x1="1820.7" y1="3755.7" x2="1850.2" y2="3755.7" stroke-width="5.5"/></g>
<g stroke="#30AE6A" fill="none"><line x1="2001.8" y1="3800.2" x2="2001.8" y2="3810.6" stroke-width="8"/><line x1="1987.1" y1="3800.2" x2="2016.6" y2="3800.2" stroke-width="5.5"/><line x1="1987.1" y1="3810.6" x2="2016.6" y2="3810.6" stroke-width="5.5"/></g>
<rect x="329.3" y="2806.7" width="1798.3999999999999" height="1086.8000000000002" fill="none" stroke="#000" stroke-width="8"/>
<line x1="306.3" y1="3893.5" x2="329.3" y2="3893.5" stroke="#000" stroke-width="8"/>
<line x1="306.3" y1="3676.1" x2="329.3" y2="3676.1" stroke="#000" stroke-width="8"/>
<line x1="306.3" y1="3458.8" x2="329.3" y2="3458.8" stroke="#000" stroke-width="8"/>
<line x1="306.3" y1="3241.4" x2="329.3" y2="3241.4" stroke="#000" stroke-width="8"/>
<line x1="306.3" y1="3024.1" x2="329.3" y2="3024.1" stroke="#000" stroke-width="8"/>
<line x1="306.3" y1="2806.7" x2="329.3" y2="2806.7" stroke="#000" stroke-width="8"/>
<line x1="316.3" y1="3784.8" x2="329.3" y2="3784.8" stroke="#000" stroke-width="8"/>
<line x1="316.3" y1="3567.5" x2="329.3" y2="3567.5" stroke="#000" stroke-width="8"/>
<line x1="316.3" y1="3350.1" x2="329.3" y2="3350.1" stroke="#000" stroke-width="8"/>
<line x1="316.3" y1="3132.7" x2="329.3" y2="3132.7" stroke="#000" stroke-width="8"/>
<line x1="316.3" y1="2915.4" x2="329.3" y2="2915.4" stroke="#000" stroke-width="8"/>
<line x1="329.3" y1="3893.5" x2="329.3" y2="3906.5" stroke="#000" stroke-width="8"/>
<line x1="362.4" y1="3893.5" x2="362.4" y2="3906.5" stroke="#000" stroke-width="8"/>
<line x1="390.4" y1="3893.5" x2="390.4" y2="3906.5" stroke="#000" stroke-width="8"/>
<line x1="414.6" y1="3893.5" x2="414.6" y2="3906.5" stroke="#000" stroke-width="8"/>
<line x1="436.0" y1="3893.5" x2="436.0" y2="3906.5" stroke="#000" stroke-width="8"/>
<line x1="455.2" y1="3893.5" x2="455.2" y2="3916.5" stroke="#000" stroke-width="8"/>
<line x1="581.0" y1="3893.5" x2="581.0" y2="3906.5" stroke="#000" stroke-width="8"/>
<line x1="654.7" y1="3893.5" x2="654.7" y2="3906.5" stroke="#000" stroke-width="8"/>
<line x1="706.9" y1="3893.5" x2="706.9" y2="3906.5" stroke="#000" stroke-width="8"/>
<line x1="747.4" y1="3893.5" x2="747.4" y2="3906.5" stroke="#000" stroke-width="8"/>
<line x1="780.5" y1="3893.5" x2="780.5" y2="3906.5" stroke="#000" stroke-width="8"/>
<line x1="808.5" y1="3893.5" x2="808.5" y2="3906.5" stroke="#000" stroke-width="8"/>
<line x1="832.8" y1="3893.5" x2="832.8" y2="3906.5" stroke="#000" stroke-width="8"/>
<line x1="854.2" y1="3893.5" x2="854.2" y2="3906.5" stroke="#000" stroke-width="8"/>
<line x1="873.3" y1="3893.5" x2="873.3" y2="3916.5" stroke="#000" stroke-width="8"/>
<line x1="999.2" y1="3893.5" x2="999.2" y2="3906.5" stroke="#000" stroke-width="8"/>
<line x1="1072.8" y1="3893.5" x2="1072.8" y2="3906.5" stroke="#000" stroke-width="8"/>
<line x1="1125.0" y1="3893.5" x2="1125.0" y2="3906.5" stroke="#000" stroke-width="8"/>
<line x1="1165.6" y1="3893.5" x2="1165.6" y2="3906.5" stroke="#000" stroke-width="8"/>
<line x1="1198.7" y1="3893.5" x2="1198.7" y2="3906.5" stroke="#000" stroke-width="8"/>
<line x1="1226.7" y1="3893.5" x2="1226.7" y2="3906.5" stroke="#000" stroke-width="8"/>
<line x1="1250.9" y1="3893.5" x2="1250.9" y2="3906.5" stroke="#000" stroke-width="8"/>
<line x1="1272.3" y1="3893.5" x2="1272.3" y2="3906.5" stroke="#000" stroke-width="8"/>
<line x1="1291.4" y1="3893.5" x2="1291.4" y2="3916.5" stroke="#000" stroke-width="8"/>
<line x1="1417.3" y1="3893.5" x2="1417.3" y2="3906.5" stroke="#000" stroke-width="8"/>
<line x1="1490.9" y1="3893.5" x2="1490.9" y2="3906.5" stroke="#000" stroke-width="8"/>
<line x1="1543.2" y1="3893.5" x2="1543.2" y2="3906.5" stroke="#000" stroke-width="8"/>
<line x1="1583.7" y1="3893.5" x2="1583.7" y2="3906.5" stroke="#000" stroke-width="8"/>
<line x1="1616.8" y1="3893.5" x2="1616.8" y2="3906.5" stroke="#000" stroke-width="8"/>
<line x1="1644.8" y1="3893.5" x2="1644.8" y2="3906.5" stroke="#000" stroke-width="8"/>
<line x1="1669.0" y1="3893.5" x2="1669.0" y2="3906.5" stroke="#000" stroke-width="8"/>
<line x1="1690.4" y1="3893.5" x2="1690.4" y2="3906.5" stroke="#000" stroke-width="8"/>
<line x1="1709.6" y1="3893.5" x2="1709.6" y2="3916.5" stroke="#000" stroke-width="8"/>
<line x1="1835.4" y1="3893.5" x2="1835.4" y2="3906.5" stroke="#000" stroke-width="8"/>
<line x1="1909.1" y1="3893.5" x2="1909.1" y2="3906.5" stroke="#000" stroke-width="8"/>
<line x1="1961.3" y1="3893.5" x2="1961.3" y2="3906.5" stroke="#000" stroke-width="8"/>
<line x1="2001.8" y1="3893.5" x2="2001.8" y2="3906.5" stroke="#000" stroke-width="8"/>
<line x1="2034.9" y1="3893.5" x2="2034.9" y2="3906.5" stroke="#000" stroke-width="8"/>
<line x1="2062.9" y1="3893.5" x2="2062.9" y2="3906.5" stroke="#000" stroke-width="8"/>
<line x1="2087.2" y1="3893.5" x2="2087.2" y2="3906.5" stroke="#000" stroke-width="8"/>
<line x1="2108.6" y1="3893.5" x2="2108.6" y2="3906.5" stroke="#000" stroke-width="8"/>
<line x1="2127.7" y1="3893.5" x2="2127.7" y2="3916.5" stroke="#000" stroke-width="8"/>
<text x="391.3 429.1 446.8 482.0" y="3981.5" font-size="65.5">0.01</text>
<text x="827.9 863.2 884.2" y="3981.5" font-size="65.5">0.1</text>
<text x="1269.9" y="3981.5" font-size="65.5">1</text>
<text x="1670.6" y="3981.5" font-size="65.5">10</text>
<text x="2073.2" y="3981.5" font-size="65.5">100</text>
<text x="255.0" y="3912.8" font-size="65.5">0</text>
<text x="219.0" y="3695.4" font-size="65.5">20</text>
<text x="219.0" y="3478.1" font-size="65.5">40</text>
<text x="219.0" y="3260.7" font-size="65.5">60</text>
<text x="219.0" y="3043.4" font-size="65.5">80</text>
<text x="182.0" y="2826.0" font-size="65.5">100</text>
<text x="814.5" y="4095.1" font-size="72" textLength="918.6" lengthAdjust="spacing">DOX Concentration (μg/mL)</text>
<text transform="translate(157.5,3617.6) rotate(-90)" x="0" y="0" font-size="72" textLength="538.9" lengthAdjust="spacing">Cell Viability (%)</text>
<text x="46.9" y="2875.7" font-size="87" textLength="112.5" lengthAdjust="spacing">(c)</text>
<line x1="480.7" y1="3543.8" x2="621.3" y2="3543.8" stroke="#505050" stroke-width="7"/>
<rect x="538.0" y="3531.3" width="25.0" height="25.0" fill="#505050"/>
<text x="636.5" y="3563.0" font-size="60.5" textLength="245.5" lengthAdjust="spacing">free DOX</text>
<line x1="480.7" y1="3617.4" x2="621.3" y2="3617.4" stroke="#F44040" stroke-width="7"/>
<circle cx="550.5" cy="3617.4" r="14.0" fill="#F44040"/>
<text x="633.5" y="3639.0" font-size="60.5" textLength="613.9" lengthAdjust="spacing">DOX-loaded bulk COF</text>
<line x1="480.7" y1="3692" x2="621.3" y2="3692" stroke="#1A6BE0" stroke-width="7"/>
<polygon points="550.5,3672.0 567.5,3702.0 533.5,3702.0" fill="#1A6BE0"/>
<text x="633.5" y="3712.0" font-size="60.5" textLength="706.1" lengthAdjust="spacing">DOX-loaded DMSN@COF</text>
<line x1="480.7" y1="3766.4" x2="621.3" y2="3766.4" stroke="#30AE6A" stroke-width="7"/>
<polygon points="550.5,3786.4 567.5,3756.4 533.5,3756.4" fill="#30AE6A"/>
<text x="633.5" y="3787.0" font-size="60.5" textLength="574.2" lengthAdjust="spacing">DOX-loaded COF HP</text>
</svg></body></html>
